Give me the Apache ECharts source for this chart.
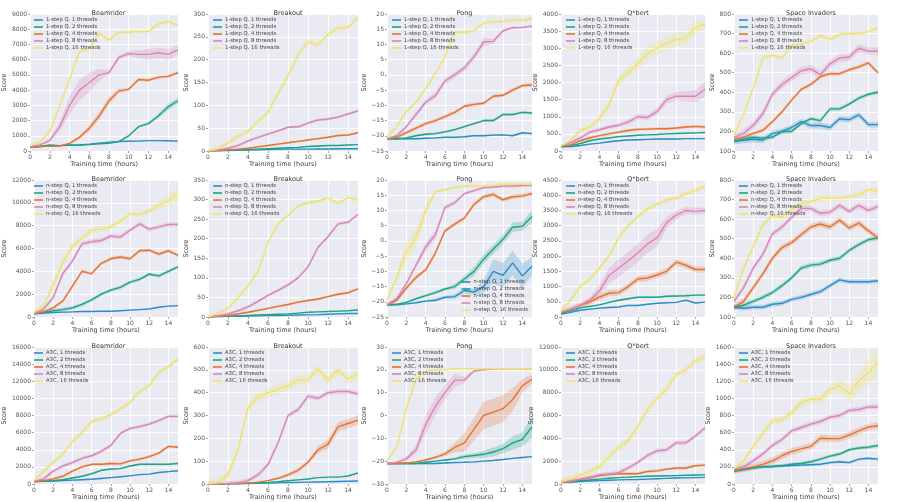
<!DOCTYPE html>
<html>
<head>
<meta charset="utf-8">
<script src="https://cdn.jsdelivr.net/npm/echarts@6/dist/echarts.min.js"></script>
<style>
  html, body { margin: 0; background: #fff; }
  #chart { width: 900px; height: 502px; }
</style>
</head>
<body>
<div id="chart"></div>
<script>
const hours = [0, 1, 2, 3, 4, 5, 6, 7, 8, 9, 10, 11, 12, 13, 14, 15];
const games = ['Beamrider', 'Breakout', 'Pong', 'Q*bert', 'Space Invaders'];
const methods = ['1-step Q', 'n-step Q', 'A3C'];
const threads = [1, 2, 4, 8, 16];

// ---- 1-step Q (row 1), one array per thread count ----
const oneStepBeamrider = [
  [250, 300, 330, 350, 380, 400, 450, 520, 580, 620, 640, 650, 680, 680, 670, 650],
  [250, 300, 400, 350, 400, 380, 420, 480, 500, 620, 1000, 1600, 1800, 2300, 2900, 3300],
  [250, 300, 320, 330, 500, 900, 1500, 2300, 3300, 3950, 4050, 4700, 4650, 4850, 4900, 5150],
  [300, 400, 700, 1600, 3000, 4000, 4500, 5000, 5150, 6150, 6400, 6350, 6350, 6450, 6350, 6650],
  [350, 600, 1300, 3000, 4700, 6550, 6700, 7750, 7300, 7800, 7800, 7850, 7850, 8350, 8500, 8250]
];
const oneStepBreakout = [
  [0, 0.5, 1, 1.5, 2, 2.5, 3, 3.5, 4, 4, 4, 4.5, 4.5, 5, 5, 5],
  [0, 1, 1.5, 2, 3, 4, 5, 6, 7, 8, 10, 11, 12, 12, 13, 14],
  [0, 1, 2, 4, 6, 9, 12, 15, 18, 21, 24, 27, 30, 34, 35, 40],
  [0, 2, 6, 12, 22, 30, 37, 44, 52, 53, 61, 68, 70, 74, 81, 88],
  [0, 5, 18, 32, 43, 65, 85, 125, 165, 210, 240, 232, 255, 270, 270, 293]
];
const oneStepPong = [
  [-21, -21, -21, -21, -20.8, -20.7, -20.5, -20.5, -20.3, -20, -20, -19.8, -19.7, -20, -19, -19.3],
  [-21, -21, -20.7, -20, -19.5, -19.3, -18.7, -18, -17, -16, -15, -15, -13, -13, -12.3, -12.5],
  [-21, -20.5, -19, -17.5, -16, -15, -13.7, -12.3, -10.3, -9.7, -9.3, -7, -6.7, -5, -3.5, -3.3],
  [-21, -20, -17, -13, -9, -6.8, -2, 0, 2.3, 6, 10.8, 11, 14.5, 15.5, 15.6, 16],
  [-20.5, -17, -12, -9, -4.5, 0.5, 6, 14, 14, 14.5, 17, 17.5, 17.5, 18, 18, 18.5]
];
const oneStepQbert = [
  [120, 130, 160, 200, 230, 270, 300, 320, 330, 340, 350, 350, 350, 360, 360, 360],
  [130, 150, 220, 300, 350, 380, 420, 440, 460, 470, 480, 500, 510, 520, 530, 540],
  [150, 180, 300, 380, 450, 500, 550, 600, 630, 640, 650, 650, 670, 700, 720, 700],
  [150, 250, 380, 550, 620, 700, 750, 850, 1000, 980, 1150, 1500, 1600, 1600, 1600, 1800],
  [150, 300, 600, 700, 950, 1350, 2050, 2300, 2550, 2850, 3000, 3150, 3250, 3300, 3600, 3700]
];
const oneStepInvaders = [
  [150, 155, 160, 155, 190, 200, 220, 250, 230, 230, 220, 265, 260, 285, 235, 235],
  [150, 160, 170, 165, 170, 200, 200, 240, 265, 255, 315, 315, 340, 370, 390, 400],
  [160, 170, 190, 205, 250, 300, 360, 415, 440, 480, 495, 495, 515, 530, 550, 500],
  [170, 190, 230, 290, 390, 440, 475, 510, 520, 490, 545, 575, 580, 625, 610, 610],
  [180, 290, 420, 575, 590, 575, 640, 645, 660, 690, 670, 695, 700, 700, 710, 730]
];

// ---- n-step Q (row 2) ----
const nStepBeamrider = [
  [300, 350, 400, 430, 450, 480, 480, 500, 500, 550, 600, 650, 700, 850, 950, 1000],
  [300, 400, 550, 650, 800, 1100, 1500, 2000, 2350, 2600, 3050, 3300, 3750, 3600, 4000, 4400],
  [300, 450, 800, 1400, 2700, 4000, 3800, 4700, 5100, 5250, 5100, 5800, 5850, 5500, 5800, 5400],
  [300, 700, 1700, 3800, 4900, 6400, 6600, 6700, 7100, 7000, 7600, 8150, 7700, 7900, 8100, 8100],
  [400, 1000, 2800, 4800, 6200, 6900, 7600, 7700, 7900, 8400, 9000, 9000, 9300, 9800, 10200, 10800]
];
const nStepBreakout = [
  [0, 1, 1.5, 2, 2.5, 3, 3.5, 4, 4.5, 5, 5.5, 6, 7, 8, 9, 9],
  [0, 1, 2, 3, 4, 5, 6, 7, 8, 10, 12, 13, 14, 15, 16, 18],
  [0, 2, 4, 8, 12, 17, 22, 27, 32, 38, 42, 46, 52, 58, 62, 72],
  [0, 3, 8, 16, 26, 40, 55, 68, 82, 100, 128, 178, 205, 238, 242, 262],
  [0, 10, 22, 50, 80, 115, 190, 238, 260, 283, 292, 296, 304, 290, 305, 299]
];
const nStepPong = [
  [-21, -21, -20.7, -20.3, -19.8, -19.5, -18.5, -18.3, -16.3, -16.8, -15, -10, -11.3, -7.2, -11.5, -8.3],
  [-21, -20.8, -20.2, -19, -18, -17, -15.8, -15, -12.5, -10, -6, -2.7, 0.5, 4.5, 4.8, 8],
  [-21, -19.5, -15.5, -12, -9.5, -4, 3.3, 5.5, 7.5, 12, 14.5, 15.3, 13.5, 14.5, 14.8, 15.5],
  [-21, -19, -14, -8, -2, 2, 11, 12.5, 15.5, 16.5, 17.5, 17.7, 18, 18, 18.2, 18.3],
  [-19.5, -12, -3.5, 1, 10, 16.2, 16.8, 17.5, 18, 18, 18, 18.2, 18.5, 18.6, 18.6, 18.5]
];
const nStepQbert = [
  [100, 150, 220, 260, 290, 310, 330, 380, 380, 420, 450, 470, 480, 550, 460, 490],
  [130, 200, 300, 350, 400, 480, 550, 600, 650, 650, 650, 680, 690, 700, 720, 720],
  [150, 250, 380, 500, 650, 780, 800, 1000, 1250, 1280, 1380, 1500, 1800, 1700, 1560, 1560],
  [150, 250, 380, 550, 850, 1370, 1600, 1850, 2100, 2400, 2600, 3100, 3350, 3500, 3470, 3500],
  [200, 550, 1000, 1250, 1600, 2000, 2600, 3000, 3300, 3550, 3700, 3850, 3900, 4050, 4150, 4300]
];
const nStepInvaders = [
  [150, 145, 150, 150, 165, 170, 190, 200, 215, 230, 260, 290, 280, 280, 280, 285],
  [150, 160, 180, 200, 225, 260, 300, 350, 365, 370, 390, 400, 440, 470, 495, 505],
  [150, 180, 250, 320, 400, 455, 480, 520, 560, 575, 560, 595, 555, 580, 540, 505],
  [180, 250, 350, 420, 525, 560, 610, 655, 655, 630, 635, 670, 640, 670, 645, 665],
  [200, 350, 460, 570, 620, 610, 650, 680, 690, 705, 710, 705, 715, 725, 750, 745]
];

// ---- A3C (row 3) ----
const a3cBeamrider = [
  [300, 320, 350, 400, 450, 500, 550, 650, 750, 850, 950, 1100, 1150, 1350, 1450, 1550],
  [300, 350, 400, 500, 700, 900, 1200, 1600, 1750, 1800, 2100, 2300, 2300, 2300, 2300, 2400],
  [300, 400, 600, 900, 1500, 2000, 2300, 2300, 2400, 2350, 2700, 2900, 3200, 3600, 4400, 4300],
  [300, 600, 1500, 2100, 2500, 3000, 3300, 3800, 4500, 5900, 6500, 6700, 7000, 7400, 7900, 7900],
  [400, 1500, 2500, 3500, 5000, 6000, 7300, 7600, 8100, 8800, 9500, 10800, 11500, 13000, 13700, 14600]
];
const a3cBreakout = [
  [0, 0, 0, 1, 2, 3, 4, 5, 6, 7, 8, 9, 10, 11, 12, 13],
  [0, 0, 1, 2, 3, 5, 7, 10, 14, 18, 22, 28, 30, 30, 35, 48],
  [0, 0, 1, 2, 4, 8, 15, 25, 40, 60, 95, 150, 175, 250, 265, 280],
  [0, 1, 2, 5, 15, 40, 85, 180, 300, 325, 385, 375, 400, 405, 405, 395],
  [0, 5, 40, 150, 335, 380, 400, 415, 430, 455, 455, 505, 455, 500, 460, 480]
];
const a3cPong = [
  [-21, -21, -21, -21, -21, -21, -20.8, -20.6, -20.5, -20.3, -20, -19.7, -19.3, -18.8, -18.4, -18],
  [-21, -21, -21, -21, -20.5, -20, -19.5, -19, -18, -17.5, -17, -16, -14.5, -12, -10.5, -5],
  [-21, -21, -20.8, -20.3, -19.5, -18.3, -16.8, -14, -12, -6, 0, 1.5, 3, 7, 13, 16],
  [-21, -20.5, -19, -15, -4, 4, 10, 15.5, 15.5, 19.5, 20, 20.3, 20.5, 20.5, 20.5, 20.5],
  [-20, -14, 3, 16, 19.5, 19.8, 20, 20.5, 20.5, 20.5, 20.5, 20.5, 20.5, 20.5, 20.5, 20.5]
];
const a3cQbert = [
  [150, 180, 220, 260, 300, 330, 360, 380, 400, 430, 460, 490, 520, 540, 560, 580],
  [150, 200, 280, 350, 430, 500, 560, 600, 650, 680, 700, 720, 730, 760, 790, 800],
  [150, 250, 400, 550, 750, 850, 900, 900, 900, 1100, 1150, 1300, 1400, 1400, 1600, 1650],
  [150, 250, 400, 550, 800, 850, 1000, 1400, 1900, 2500, 2900, 3000, 3600, 3600, 4200, 4900],
  [200, 450, 800, 1100, 1500, 2400, 3200, 3800, 5000, 6500, 7500, 8300, 9600, 10000, 10800, 11100]
];
const a3cInvaders = [
  [150, 170, 190, 200, 205, 210, 215, 220, 225, 230, 250, 260, 250, 290, 300, 290],
  [150, 170, 190, 200, 205, 215, 230, 240, 260, 290, 325, 350, 400, 420, 430, 450],
  [160, 180, 200, 230, 270, 330, 380, 410, 440, 535, 530, 530, 570, 620, 665, 680],
  [170, 200, 270, 350, 450, 520, 620, 660, 700, 730, 780, 800, 860, 870, 900, 900],
  [180, 270, 440, 590, 740, 750, 830, 950, 990, 990, 1100, 1150, 1050, 1200, 1300, 1420]
];

// shaded spread (half width) per thread count: a number or one value per hour
const oneStepBeamriderBand = [30,
  [20, 20, 20, 20, 20, 20, 30, 30, 30, 50, 60, 80, 100, 150, 200, 200],
  [20, 20, 20, 30, 60, 120, 200, 250, 250, 150, 100, 100, 100, 100, 100, 120],
  [30, 50, 100, 300, 600, 700, 600, 400, 150, 150, 150, 250, 350, 350, 350, 350],
  100];
const oneStepBreakoutBand = [1, 1, 2, 3, 5];
const oneStepPongBand = [0.3, 0.4, 0.6,
  [0.3, 0.3, 0.5, 0.8, 1, 1, 1, 1, 1, 1, 1.5, 0.8, 0.5, 0.4, 0.4, 0.4], 0.6];
const oneStepQbertBand = [20, 20, 40,
  [20, 30, 50, 60, 60, 60, 60, 80, 80, 80, 100, 120, 120, 150, 180, 220],
  [20, 40, 60, 80, 100, 120, 150, 150, 200, 200, 200, 200, 200, 200, 200, 150]];
const oneStepInvadersBand = [15, 10, 10, 20, 10];

const nStepBeamriderBand = [50, 150, 150, 200,
  [100, 200, 400, 400, 300, 300, 300, 250, 200, 200, 200, 200, 250, 300, 500, 700]];
const nStepBreakoutBand = [1, 1, 3, 4, 4];
const nStepPongBand = [
  [0.3, 0.3, 0.3, 0.3, 0.4, 0.5, 0.5, 0.8, 1, 1, 2, 4, 4, 4, 4, 3],
  [0.3, 0.3, 0.3, 0.4, 0.5, 0.5, 0.5, 0.8, 1, 1.5, 1.5, 1.5, 1.5, 1.5, 1.5, 2],
  0.7,
  [0.5, 0.5, 0.8, 1, 1.5, 1.5, 0.8, 0.6, 0.5, 0.5, 0.5, 0.5, 0.5, 0.5, 0.5, 0.5],
  [0.5, 1, 3, 3, 2, 0.5, 0.5, 0.5, 0.5, 0.5, 0.5, 0.5, 0.5, 0.5, 0.5, 0.5]];
const nStepQbertBand = [20, 30, 100,
  [30, 50, 60, 100, 200, 250, 300, 300, 300, 300, 300, 200, 150, 120, 120, 100], 80];
const nStepInvadersBand = [12, 12, 15, 15, 15];

const a3cBeamriderBand = [80, 100, 150, 200, 250];
const a3cBreakoutBand = [1, 2,
  [0, 0, 0, 0, 1, 2, 3, 5, 8, 10, 10, 15, 20, 20, 20, 20], 10, 20];
const a3cPongBand = [0.3,
  [0.3, 0.3, 0.3, 0.3, 0.3, 0.3, 0.5, 0.5, 1, 1, 1.5, 2, 2, 3, 3, 5],
  [0.3, 0.3, 0.3, 0.3, 0.5, 0.5, 1, 2, 4, 5, 6, 6, 6, 5, 3, 2],
  [0.3, 0.5, 1, 2, 4, 4, 3, 3, 1.5, 0.5, 0.3, 0.3, 0.3, 0.3, 0.3, 0.3],
  [0.5, 1, 2, 1.5, 0.5, 0.3, 0.3, 0.3, 0.3, 0.3, 0.3, 0.3, 0.3, 0.3, 0.3, 0.3]];
const a3cQbertBand = [40, 60, 120, 200, 300];
const a3cInvadersBand = [15, 20, 40, 30,
  [10, 20, 30, 40, 40, 40, 50, 50, 50, 50, 60, 80, 100, 120, 150, 150]];

// y axis ranges [min, max, step] per row / game
const oneStepY = [[0, 9000, 1000], [0, 300, 50], [-25, 20, 5], [0, 4000, 500], [100, 800, 100]];
const nStepY = [[0, 12000, 2000], [0, 350, 50], [-25, 20, 5], [0, 4500, 500], [100, 800, 100]];
const a3cY = [[0, 16000, 2000], [0, 600, 100], [-30, 30, 10], [0, 12000, 2000], [0, 1600, 200]];

const rowData = [
  [oneStepBeamrider, oneStepBreakout, oneStepPong, oneStepQbert, oneStepInvaders],
  [nStepBeamrider, nStepBreakout, nStepPong, nStepQbert, nStepInvaders],
  [a3cBeamrider, a3cBreakout, a3cPong, a3cQbert, a3cInvaders]
];
const rowBands = [
  [oneStepBeamriderBand, oneStepBreakoutBand, oneStepPongBand, oneStepQbertBand, oneStepInvadersBand],
  [nStepBeamriderBand, nStepBreakoutBand, nStepPongBand, nStepQbertBand, nStepInvadersBand],
  [a3cBeamriderBand, a3cBreakoutBand, a3cPongBand, a3cQbertBand, a3cInvadersBand]
];
const rowY = [oneStepY, nStepY, a3cY];

const colors = ['#2b8fc7', '#1ba585', '#e6722f', '#d985b8', '#eee46c'];
const colLeft = [29, 208, 387, 561, 734];
const colWidth = [149, 150, 145, 144, 144];
const rowTop = [14, 180, 347];
const plotH = 137;
const FONT = 'DejaVu Sans';

const chart = echarts.init(document.getElementById('chart'), null, { renderer: 'canvas' });

const grid = [], xAxis = [], yAxis = [], series = [], title = [], legend = [];
const minus = v => String(v).replace('-', '\u2212');

// one polygon per band: lower edge left to right, upper edge back
function bandRenderer(color) {
  return function (params, api) {
    if (params.dataIndex !== 0) return null;
    const n = params.dataInsideLength;
    const lower = [], upper = [];
    for (let i = 0; i < n; i++) {
      const x = api.value(0, i), lo = api.value(1, i), hi = api.value(2, i);
      lower.push(api.coord([x, lo]));
      upper.unshift(api.coord([x, hi]));
    }
    return { type: 'polygon', shape: { points: lower.concat(upper) },
      style: { fill: color, opacity: 0.25 } };
  };
}

rowData.forEach((games5, r) => {
  games5.forEach((lines, c) => {
    const idx = grid.length;
    const [ymin, ymax, ystep] = rowY[r][c];
    grid.push({ left: colLeft[c], top: rowTop[r], width: colWidth[c], height: plotH,
      show: true, backgroundColor: '#eaeaf2', borderWidth: 0 });
    title.push({ text: games[c], left: colLeft[c] + colWidth[c] / 2, top: rowTop[r] - 9,
      textAlign: 'center',
      textStyle: { fontFamily: FONT, fontSize: 6.5, fontWeight: 'normal', color: '#333' } });
    xAxis.push({ type: 'value', gridIndex: idx, min: 0, max: 15, interval: 2,
      name: 'Training time (hours)', nameLocation: 'middle', nameGap: 8.5,
      nameTextStyle: { fontFamily: FONT, fontSize: 6.5, color: '#444' },
      axisLine: { show: false, onZero: false },
      axisTick: { show: true, length: 2, lineStyle: { color: '#666', width: 0.6 } },
      axisLabel: { fontFamily: FONT, fontSize: 6, color: '#555', margin: 3,
        showMaxLabel: false, formatter: v => (v === 15 ? '' : String(v)) },
      splitLine: { show: true, lineStyle: { color: '#ffffff', width: 0.9 } } });
    yAxis.push({ type: 'value', gridIndex: idx, min: ymin, max: ymax, interval: ystep,
      name: 'Score', nameLocation: 'middle', nameGap: 18,
      nameTextStyle: { fontFamily: FONT, fontSize: 6.5, color: '#444' },
      axisLine: { show: false, onZero: false },
      axisTick: { show: true, length: 2, lineStyle: { color: '#666', width: 0.6 } },
      axisLabel: { fontFamily: FONT, fontSize: 6, color: '#555', margin: 3, formatter: minus },
      splitLine: { show: true, lineStyle: { color: '#ffffff', width: 0.9 } } });

    const names = threads.map(t => methods[r] + ', ' + t + ' threads');
    lines.forEach((vals, s) => {
      const b = rowBands[r][c][s];
      const spread = Array.isArray(b) ? b : hours.map(() => b);
      series.push({ type: 'custom', name: 'band' + idx + '_' + s,
        xAxisIndex: idx, yAxisIndex: idx, silent: true, z: 1, clip: true,
        renderItem: bandRenderer(colors[s]),
        encode: { x: 0, y: [1, 2] },
        data: hours.map((h, i) => [h, vals[i] - spread[i], vals[i] + spread[i]]) });
    });
    lines.forEach((vals, s) => {
      series.push({ type: 'line', name: names[s], xAxisIndex: idx, yAxisIndex: idx,
        symbol: 'none', z: 3, color: colors[s],
        lineStyle: { width: 1.4, color: colors[s] },
        data: hours.map((h, i) => [h, vals[i]]) });
    });

    const lg = { data: names, orient: 'vertical', icon: 'rect', itemWidth: 9, itemHeight: 1.6,
      itemGap: 1, padding: 0, selectedMode: false,
      textStyle: { fontFamily: FONT, fontSize: 5.3, color: '#444', lineHeight: 6, padding: [0, 0, 0, -2] } };
    if (r === 1 && c === 2) {
      lg.right = 900 - (colLeft[c] + colWidth[c]) + 4;
      lg.bottom = 502 - (rowTop[r] + plotH) + 4;
    } else {
      lg.left = colLeft[c] + 5;
      lg.top = rowTop[r] + 3;
    }
    legend.push(lg);
  });
});

chart.setOption({ animation: false, backgroundColor: '#ffffff',
  grid, xAxis, yAxis, series, title, legend });
</script>
</body>
</html>
